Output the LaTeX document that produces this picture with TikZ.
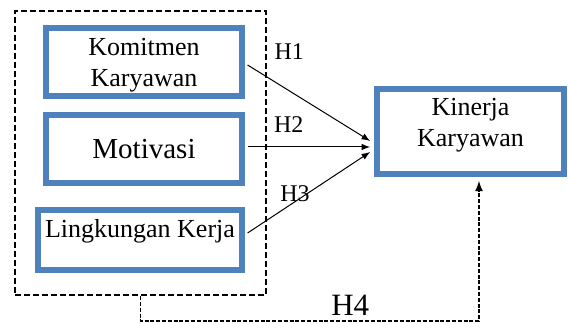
\documentclass[tikz,border=0pt]{standalone}
\usepackage{fontspec}
\setmainfont{Liberation Serif}
\usetikzlibrary{arrows}
\usepackage{xcolor}
\definecolor{boxblue}{RGB}{79,129,189}

\begin{document}
\begin{tikzpicture}[x=0.5pt, y=0.5pt,
        varbox/.style={draw=boxblue, line width=2.8pt, fill=white, align=center, inner sep=0pt, font=\fontsize{13}{15.5}\selectfont},
        hyp/.style={inner sep=0pt, font=\fontsize{12}{14}\selectfont}]

        \useasboundingbox (0, 0) rectangle (568, 324);

        \node[draw, line width=1.15pt, dash pattern=on 3pt off 1.5pt, minimum width=125.5pt, minimum height=142pt] (grp) at (140.5, 171) {};

        \node[varbox, minimum width=98pt, minimum height=34pt, text depth=0pt] (kom) at (144, 262) {Komitmen\\Karyawan};
        \node[varbox, minimum width=98pt, minimum height=34pt, font=\fontsize{14.5}{17}\selectfont] (mot) at (144, 175) {Motivasi};
        \node[varbox, minimum width=102pt, minimum height=30pt, text depth=11.3pt] (lin) at (140, 84) {Lingkungan Kerja};
        \node[varbox, minimum width=93.7pt, minimum height=42.7pt, text depth=9pt] (kin) at (470.5, 192.5) {Kinerja\\Karyawan};

        \draw[-latex, line width=0.5pt] ([xshift=1.4pt, yshift=-1.5pt]kom.east) -- ([xshift=-1.9pt, yshift=-4.75pt]kin.west);
        \draw[-latex, line width=0.5pt] ([xshift=1.4pt, yshift=1pt]mot.east) -- ([xshift=-1.9pt, yshift=-7.75pt]kin.west);
        \draw[-latex, line width=0.5pt] ([xshift=1.4pt, yshift=3.5pt]lin.east) -- ([xshift=-1.9pt, yshift=-10.25pt]kin.west);
        \draw[-latex, line width=0.8pt, dash pattern=on 2pt off 0.9pt] (grp.south) -- ++(0, -25) -| ([xshift=4.25pt, yshift=-1.9pt]kin.south);

        \node[hyp] (h1) at (289.3, 272.3) {H1};
        \node[hyp] (h2) at (288.7, 199.3) {H2};
        \node[hyp] (h3) at (295, 130.7) {H3};
        \node[hyp, font=\fontsize{15.5}{18}\selectfont] (h4) at (350.3, 18.7) {H4};

\end{tikzpicture}
\end{document}
